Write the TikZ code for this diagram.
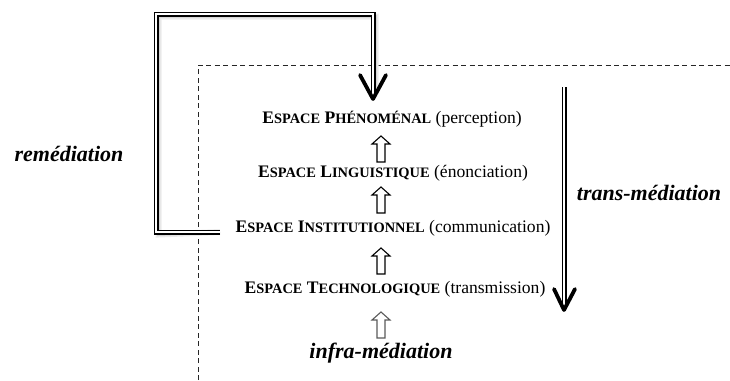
\documentclass[tikz,border=0pt]{standalone}
\usepackage{fontspec}
\setmainfont{Liberation Serif}
\usetikzlibrary{calc}

% bold small capitals built from two sizes
\newcommand\boldsc[2]{{\bfseries #1{\fontsize{14.4}{15}\selectfont #2}}}

\tikzset{
  space/.style={anchor=base, inner sep=0pt, font=\fontsize{17.6}{19}\selectfont},
  medlabel/.style={anchor=base, inner sep=0pt, font=\fontsize{22}{24}\selectfont\bfseries\itshape},
  dbl/.style={double, double distance=2pt, line width=1.5pt, line join=miter},
  dblshadow/.style={line join=miter, line width=6pt, black!8},
  dblshadowcore/.style={line join=miter, line width=3pt, black!16},
  vhead/.style={line width=3.8pt, line cap=round, line join=round},
  frame/.style={dashed, dash pattern=on 5pt off 3.5pt, line width=1pt, black!85},
  hollowup/.pic={\draw[line width=1.1pt, line join=miter, pic actions]
     (-4,13) -- (-4,-5) -- (-9,-5) -- (0,-13) -- (9,-5) -- (4,-5) -- (4,13) -- cycle;}
}

\begin{document}
\begin{tikzpicture}[x=1pt, y=-1pt]
  \useasboundingbox (0,0) rectangle (730,380);

  % open dashed frame
  \draw[frame] (198,380) -- (198,65) -- (730,65);

  % the four spaces
  \node[space] (phen) at (392,123) {\boldsc{E}{SPACE} \boldsc{P}{HÉNOMÉNAL} (perception)};
  \node[space] (ling) at (393,177) {\boldsc{E}{SPACE} \boldsc{L}{INGUISTIQUE} (énonciation)};
  \node[space] (inst) at (393,232) {\boldsc{E}{SPACE} \boldsc{I}{NSTITUTIONNEL} (communication)};
  \node[space] (tech) at (395,293) {\boldsc{E}{SPACE} \boldsc{T}{ECHNOLOGIQUE} (transmission)};
  \node[medlabel] (infra) at (381,358) {infra-médiation};

  % hollow upward arrows
  \pic at (381,149) {hollowup};
  \pic at (381,200) {hollowup};
  \pic at (381,261) {hollowup};
  \pic[draw=black!65, line width=1.4pt] at (381,325) {hollowup};

  % remédiation loop, with its soft shadow
  \node[medlabel] (rem) at (69,161) {remédiation};
  \coordinate (remA) at (220,232);
  \coordinate (remB) at (373,97);
  \begin{scope}[shift={(2.5,2.5)}]
    \draw[dblshadow] (remA) -- (156,232) -- (156,14) -- (373,14) -- (373,90);
    \draw[dblshadowcore] (remA) -- (156,232) -- (156,14) -- (373,14) -- (373,90);
  \end{scope}
  \draw[dbl] (remA) -- (156,232) -- (156,14) -- (373,14) -- (remB);
  \draw[vhead] (360,75) -- (373,99) -- (386,75);

  % trans-médiation arrow
  \node[medlabel] (trans) at (649,200) {trans-médiation};
  \coordinate (trA) at (564,87);
  \coordinate (trB) at (564,308);
  \draw[dbl] (trA) -- (trB);
  \draw[vhead] (554,289) -- (564,310) -- (575,289);
\end{tikzpicture}
\end{document}
